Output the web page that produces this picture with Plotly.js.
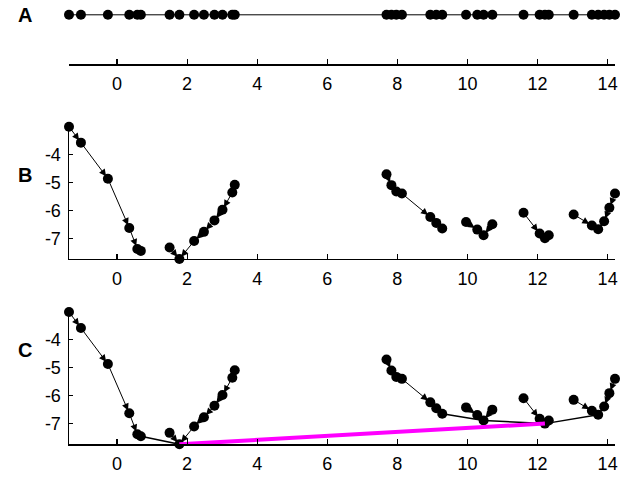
<!DOCTYPE html>
<html>
<head>
<meta charset="utf-8">
<script src="https://cdn.plot.ly/plotly-3.0.1.min.js"></script>
<style>html,body{margin:0;padding:0;background:#fff;}#chart{width:640px;height:497px;}</style>
</head>
<body>
<div id="chart"></div>
<script>
// Sample positions (x) and their values (y)
const pointX = [-1.37,-1.03,-0.26,0.35,0.58,0.68, 1.50,1.78,2.20,2.48,2.78,3.01,3.29,3.36,
                7.69,7.83,7.97,8.13,8.94,9.11,9.28, 9.96,10.28,10.46,10.71,
                11.60,12.06,12.21,12.32, 13.03,13.55,13.73,13.90,14.05,14.21];
const pointY = [-3.01,-3.58,-4.87,-6.63,-7.38,-7.45, -7.33,-7.74,-7.10,-6.77,-6.36,-5.98,-5.36,-5.09,
                -4.71,-5.10,-5.33,-5.40,-6.24,-6.45,-6.65, -6.42,-6.69,-6.89,-6.50,
                -6.09,-6.83,-7.00,-6.89, -6.15,-6.54,-6.68,-6.39,-5.91,-5.40];
// index of neighbour each point steps to (-1 = local minimum)
const stepTo = [1,2,3,4,5,-1, 7,-1,7,8,9,10,11,12,
                15,16,17,18,19,20,-1, 22,23,-1,23,
                26,27,-1,27, 30,31,-1,31,32,33];
// links between minima in panel C
const blackLinks = [[5,7],[20,23],[23,27],[27,31]];
const magentaLinks = [[7,27]];
// tick labels
const xTickVals = [0,2,4,6,8,10,12,14];
const xTickText = ['0','2','4','6','8','10','12','14'];
const yTickVals = [-7,-6,-5,-4];
const yTickText = ['-7','-6','-5','-4'];
const panelLabels = ['A','B','C'];

const font = {family:'Liberation Sans, Arial, sans-serif', size:18, color:'#000'};
const xr = [-1.37, 14.21];
const yr = [-7.74, -3.01];

const traces = [];
// Panel A
traces.push({x: pointX, y: pointX.map(() => 0), xaxis:'x', yaxis:'y', mode:'lines+markers',
  line:{color:'#000', width:1}, marker:{color:'#000', size:10}, cliponaxis:false, hoverinfo:'skip'});
// Panels B and C markers
['2','3'].forEach(k => {
  traces.push({x: pointX, y: pointY, xaxis:'x'+k, yaxis:'y'+k, mode:'markers',
    marker:{color:'#000', size:10}, cliponaxis:false, hoverinfo:'skip'});
});
// Panel C links
blackLinks.forEach(([a,b]) => traces.push({x:[pointX[a],pointX[b]], y:[pointY[a],pointY[b]],
  xaxis:'x3', yaxis:'y3', mode:'lines', line:{color:'#000', width:1.5}, cliponaxis:false, hoverinfo:'skip'}));
magentaLinks.forEach(([a,b]) => traces.push({x:[pointX[a],pointX[b]], y:[pointY[a],pointY[b]],
  xaxis:'x3', yaxis:'y3', mode:'lines', line:{color:'#ff00ff', width:4}, cliponaxis:false, hoverinfo:'skip'}));

const annotations = [];
['2','3'].forEach(k => {
  stepTo.forEach((t,i) => {
    if (t < 0) return;
    annotations.push({x: pointX[t], y: pointY[t], ax: pointX[i], ay: pointY[i],
      xref:'x'+k, yref:'y'+k, axref:'x'+k, ayref:'y'+k, text:'', showarrow:true,
      arrowhead:2, arrowsize:1.4, arrowwidth:1, arrowcolor:'#000', standoff:3});
  });
});
const labelY = [0.970, 0.648, 0.296];
panelLabels.forEach((p,i) => annotations.push({text:'<b>'+p+'</b>', xref:'paper', yref:'paper',
  x:-0.081, y:labelY[i], xanchor:'center', yanchor:'middle', showarrow:false,
  font:{family:'Liberation Sans, Arial, sans-serif', size:20, color:'#000'}}));

function xax(anchor) {
  return {range: xr, domain:[0,1], anchor: anchor, showline:true, linecolor:'#000', linewidth:1.5,
    ticks:'inside', ticklen:5, tickwidth:1.2, tickcolor:'#000', tickvals:xTickVals, ticktext:xTickText,
    tickfont:font, showgrid:false, zeroline:false, ticklabelstandoff:3, fixedrange:true};
}
function yax(anchor, dom) {
  return {range: yr, domain: dom, anchor: anchor, showline:true, linecolor:'#000', linewidth:1.5,
    ticks:'inside', ticklen:4, tickwidth:1.2, tickcolor:'#000',
    tickvals:yTickVals, ticktext:yTickText, tickfont:font, showgrid:false, zeroline:false,
    ticklabelstandoff:3, fixedrange:true};
}
const layout = {
  width:640, height:497, margin:{l:69, r:25, t:0, b:0}, showlegend:false,
  paper_bgcolor:'#fff', plot_bgcolor:'#fff', font: font,
  xaxis: xax('y'),
  yaxis: {range:[-1, 0.2], domain:[0.8712, 0.99], anchor:'x', visible:false, fixedrange:true},
  xaxis2: xax('y2'),
  yaxis2: yax('x2', [0.4789, 0.7451]),
  xaxis3: xax('y3'),
  yaxis3: yax('x3', [0.1060, 0.3722]),
  annotations: annotations
};
Plotly.newPlot('chart', traces, layout, {displayModeBar:false, staticPlot:true});
</script>
</body>
</html>
